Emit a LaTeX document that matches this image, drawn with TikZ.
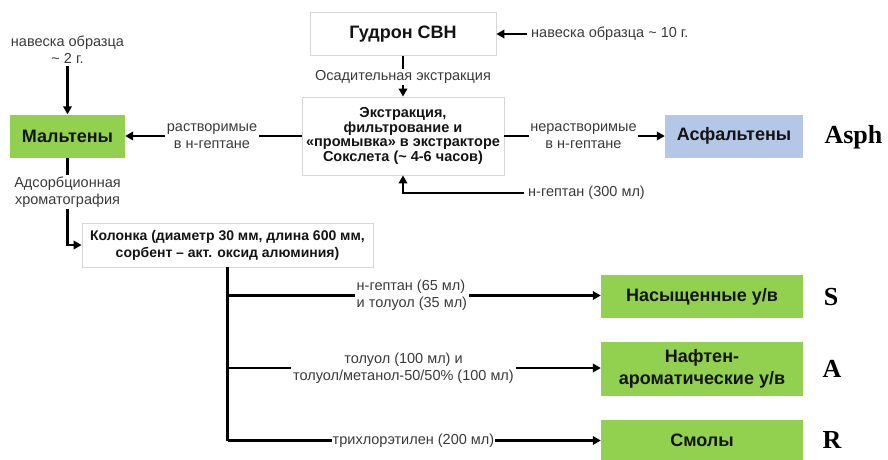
\documentclass[tikz,border=0pt]{standalone}
\usepackage{fontspec}
\setmainfont{Liberation Sans}
\newfontfamily\tagfont{Liberation Serif}
\usetikzlibrary{arrows.meta}

\definecolor{boxgreen}{HTML}{92D050}
\definecolor{boxblue}{HTML}{B4C7E7}
\definecolor{boxedge}{HTML}{D6D6D6}
\definecolor{labelgray}{HTML}{3A3A3A}
\definecolor{boxtext}{HTML}{141414}

\tikzset{
  whitebox/.style={draw=boxedge, fill=white, line width=0.8pt, inner sep=0pt,
    align=center, text=boxtext},
  greenbox/.style={fill=boxgreen, inner sep=0pt, align=center, text=boxtext,
    minimum width=202pt, font=\bfseries\fontsize{18}{22}\selectfont},
  bluebox/.style={fill=boxblue, inner sep=0pt, align=center, text=boxtext,
    font=\bfseries\fontsize{18}{22}\selectfont},
  lbl/.style={inner sep=1.5pt, align=center, text=labelgray,
    font=\fontsize{14.5}{17}\selectfont},
  flow/.style={line width=2.1pt, draw=black},
  arr/.style={flow, -{Triangle[length=8pt,width=8.5pt]}},
  tag/.style={inner sep=0pt, font=\tagfont\bfseries\fontsize{26}{26}\selectfont}
}

\begin{document}
\begin{tikzpicture}[x=1pt,y=-1pt]
\useasboundingbox (0,0) rectangle (888,459);

% ---- boxes ----
\node[whitebox, minimum width=186pt, minimum height=43pt,
      font=\bfseries\fontsize{18}{20}\selectfont] (gudron) at (403,34) {Гудрон СВН};
\node[whitebox, minimum width=202pt, minimum height=78pt,
      font=\bfseries\fontsize{14.5}{14.5}\selectfont] (extr) at (403,136)
      {Экстракция,\\фильтрование и\\«промывка» в экстракторе\\Сокслета (\textasciitilde{} 4-6 часов)};
\node[greenbox, minimum width=115pt, minimum height=43pt] (malt) at (67.5,136) {Мальтены};
\node[bluebox, minimum width=138pt, minimum height=43pt] (asph) at (734,136) {Асфальтены};
\node[whitebox, minimum width=291pt, minimum height=44pt,
      font=\bfseries\fontsize{14}{17}\selectfont] (kol) at (227.5,245)
      {Колонка (диаметр 30 мм, длина 600 мм,\\сорбент -- акт. оксид алюминия)};
\node[greenbox, minimum height=43pt] (sat) at (702,296.5) {Насыщенные у/в};
\node[greenbox, minimum height=54pt] (naft) at (702,369) {Нафтен-\\ароматические у/в};
\node[greenbox, minimum height=41pt] (res) at (702,440.5) {Смолы};

% ---- letter tags ----
\node[tag] (tagAsph) at (853.5,137) {Asph};
\node[tag] (tagS) at (831,297) {S};
\node[tag] (tagA) at (832,369) {A};
\node[tag] (tagR) at (832,440) {R};

% ---- labels ----
\node[lbl] (src2) at (67.5,50) {навеска образца\\\textasciitilde{} 2 г.};
\node[lbl, anchor=west, inner sep=4pt] (src10) at (527,34) {навеска образца \textasciitilde{} 10 г.};
\node[lbl] (precip) at (403,77) {Осадительная экстракция};
\node[lbl] (sol) at (212,136) {растворимые\\в н-гептане};
\node[lbl] (insol) at (583.5,136) {нерастворимые\\в н-гептане};
\node[lbl, anchor=west, inner sep=4pt] (hept) at (524,193) {н-гептан (300 мл)};
\node[lbl] (adsorb) at (67.5,192) {Адсорбционная\\хроматография};
\node[lbl, anchor=west, align=left] (el1) at (355,295.5) {н-гептан (65 мл)\\и толуол (35 мл)};
\node[lbl] (el2) at (403.5,368) {толуол (100 мл) и\\толуол/метанол-50/50\% (100 мл)};
\node[lbl, anchor=west, inner sep=0.5pt] (el3) at (332,440.5) {трихлорэтилен (200 мл)};

% ---- upper part ----
\draw[arr] (src10.west) -- (src10.west -| gudron.east);
\draw[flow] (gudron.south) -- (gudron.south |- precip.north);
\draw[arr] (precip.south) -- (extr.north);
\draw[arr] (src2.south) -- (src2.south |- malt.north);
\draw[flow] (extr.west) -- (extr.west -| sol.east);
\draw[arr] (sol.west) -- (sol.west -| malt.east);
\draw[flow] (extr.east) -- (extr.east -| insol.west);
\draw[arr] (insol.east) -- (insol.east -| asph.west);
\draw[arr] (hept.west) -| (extr.south);

% ---- chromatography ----
\draw[flow] (malt.south) -- (malt.south |- adsorb.north);
\draw[arr] (adsorb.south) |- (kol.west);
\draw[flow] (kol.south) -- (kol.south |- res.west);
\draw[flow] (kol.south |- el1.west) -- (el1.west);
\draw[arr] (el1.east) -- (el1.east -| sat.west);
\draw[flow] (kol.south |- el2.west) -- (el2.west);
\draw[arr] (el2.east) -- (el2.east -| naft.west);
\draw[flow] (kol.south |- el3.west) -- (el3.west);
\draw[arr] (el3.east) -- (el3.east -| res.west);
\end{tikzpicture}
\end{document}
